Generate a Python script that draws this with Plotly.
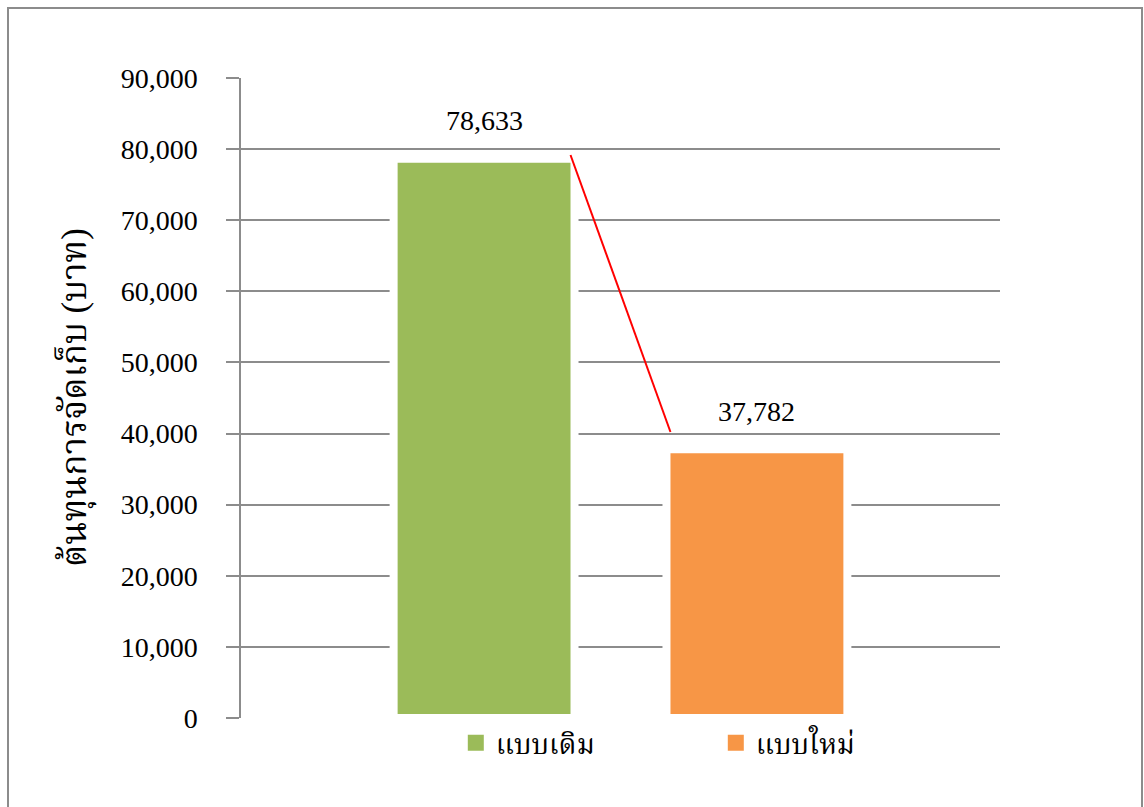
import plotly.graph_objects as go

# ---- data ----
category = ["ต้นทุน"]
series_names = ["แบบเดิม", "แบบใหม่"]
series_values = [78633, 37782]
series_colors = ["#9BBB59", "#F79646"]
value_labels = ["78,633", "37,782"]
y_tickvals = [0, 10000, 20000, 30000, 40000, 50000, 60000, 70000, 80000, 90000]
y_ticktext = ["0", "10,000", "20,000", "30,000", "40,000", "50,000", "60,000", "70,000", "80,000", "90,000"]
y_title = "ต้นทุนการจัดเก็บ (บาท)"

BARGAP = 0.281
BARGROUPGAP = 0.337
GRID = "#8c8c8c"
SERIF = "Liberation Serif, Times New Roman, Noto Serif Thai, Norasi, serif"

fig = go.Figure()
for name, val, col in zip(series_names, series_values, series_colors):
    fig.add_trace(go.Bar(
        x=category, y=[val], name=name, showlegend=False,
        marker=dict(color=col, line=dict(color="white", width=8)),
        hoverinfo="skip",
    ))
# legend entries (square swatches)
for name, col in zip(series_names, series_colors):
    fig.add_trace(go.Scatter(
        x=[None], y=[None], name=name, mode="markers",
        marker=dict(symbol="square", size=16, color=col),
        hoverinfo="skip",
    ))

# bar geometry in category units (for labels / connector)
slot = (1 - BARGAP) / len(series_values)
centers = [-(1 - BARGAP) / 2 + slot * (i + 0.5) for i in range(len(series_values))]
half_fill = slot * (1 - BARGROUPGAP) / 2 - 4 / 759

annotations = []
for c, val, lab in zip(centers, series_values, value_labels):
    annotations.append(dict(
        x=c, y=val, xref="x", yref="y", text=lab, showarrow=False,
        yshift=38, font=dict(family=SERIF, size=28, color="black"),
    ))

annotations.append(dict(
    x=(75 - 241) / 759, y=0.5, xref="paper", yref="paper", text=y_title,
    xanchor="center", yanchor="middle",
    textangle=-90, showarrow=False, font=dict(family=SERIF, size=35, color="black"),
))

shapes = [
    # red connector between the bar tops
    dict(type="line", xref="x", yref="y",
         x0=centers[0] + half_fill, y0=series_values[0] + 540,
         x1=centers[1] - half_fill, y1=series_values[1] + 2440,
         line=dict(color="#FF0000", width=2)),
    # outer frame
    dict(type="rect", xref="paper", yref="paper",
         x0=(8 - 241) / 759, x1=(1142 - 241) / 759,
         y0=(718 - 815) / 640, y1=(718 - 8) / 640,
         line=dict(color="#8c8c8c", width=2), layer="below"),
]

fig.update_layout(
    width=1144, height=807,
    margin=dict(l=241, r=144, t=78, b=89),
    paper_bgcolor="white", plot_bgcolor="white",
    barmode="group", bargap=BARGAP, bargroupgap=BARGROUPGAP,
    showlegend=True,
    legend=dict(orientation="h", x=0.283, y=0.0, xanchor="left", yanchor="top",
                font=dict(family=SERIF, size=28, color="black"),
                entrywidth=215, entrywidthmode="pixels", bgcolor="rgba(0,0,0,0)"),
    annotations=annotations, shapes=shapes,
    xaxis=dict(showticklabels=False, showgrid=False, showline=False, ticks="",
               zeroline=False, range=[-0.5, 0.5]),
    yaxis=dict(range=[0, 90000], tickvals=y_tickvals, ticktext=y_ticktext,
               showgrid=True, gridcolor=GRID, gridwidth=1.5,
               showline=True, linecolor=GRID, linewidth=1.5,
               ticks="outside", ticklen=13, tickcolor=GRID, tickwidth=1.5,
               ticklabelstandoff=23,
               zeroline=False,
               tickfont=dict(family=SERIF, size=28, color="black")),
)

fig.write_html("out.html")
